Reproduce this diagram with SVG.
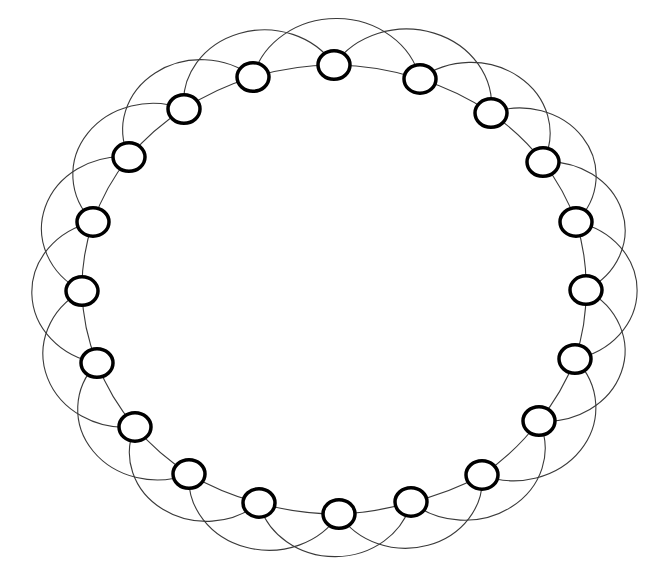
<svg xmlns="http://www.w3.org/2000/svg" width="672" height="576" viewBox="0 0 672 576">
<style>
.e{fill:none;stroke:#3a3a3a;stroke-width:1.1;vector-effect:non-scaling-stroke}
.n{fill:#fff;stroke:#000;stroke-width:3.5;vector-effect:non-scaling-stroke}
</style>
<rect width="672" height="576" fill="#fff"/>
<g transform="translate(334 289.5) scale(1 0.8909)">
<g id="connectors">
<path class="e" d="M0,-252 A252,252 0 0 1 86,-236.3"/>
<path class="e" d="M86,-236.3 A252,252 0 0 1 157,-198.1"/>
<path class="e" d="M157,-198.1 A252,252 0 0 1 209,-143.1"/>
<path class="e" d="M209,-143.1 A252,252 0 0 1 242,-75.8"/>
<path class="e" d="M242,-75.8 A252,252 0 0 1 252,0.6"/>
<path class="e" d="M252,0.6 A252,252 0 0 1 241,78"/>
<path class="e" d="M241,78 A252,252 0 0 1 205,147.6"/>
<path class="e" d="M205,147.6 A252,252 0 0 1 148,208.2"/>
<path class="e" d="M148,208.2 A252,252 0 0 1 77,238.5"/>
<path class="e" d="M77,238.5 A252,252 0 0 1 5,252"/>
<path class="e" d="M5,252 A252,252 0 0 1 -75,239.6"/>
<path class="e" d="M-75,239.6 A252,252 0 0 1 -145,207.1"/>
<path class="e" d="M-145,207.1 A252,252 0 0 1 -199,154.3"/>
<path class="e" d="M-199,154.3 A252,252 0 0 1 -237,82.5"/>
<path class="e" d="M-237,82.5 A252,252 0 0 1 -252,1.7"/>
<path class="e" d="M-252,1.7 A252,252 0 0 1 -241,-75.8"/>
<path class="e" d="M-241,-75.8 A252,252 0 0 1 -205,-148.7"/>
<path class="e" d="M-205,-148.7 A252,252 0 0 1 -150,-202.6"/>
<path class="e" d="M-150,-202.6 A252,252 0 0 1 -81,-238.5"/>
<path class="e" d="M-81,-238.5 A252,252 0 0 1 0,-252"/>
<path class="e" d="M0,-252 A85.1,85.1 0 0 1 157,-198.1"/>
<path class="e" d="M86,-236.3 A79.1,79.1 0 0 1 209,-143.1"/>
<path class="e" d="M157,-198.1 A76.3,76.3 0 0 1 242,-75.8"/>
<path class="e" d="M209,-143.1 A76.9,76.9 0 0 1 252,0.6"/>
<path class="e" d="M242,-75.8 A78.8,78.8 0 0 1 241,78"/>
<path class="e" d="M252,0.6 A79.1,79.1 0 0 1 205,147.6"/>
<path class="e" d="M241,78 A82,82 0 0 1 148,208.2"/>
<path class="e" d="M205,147.6 A80.5,80.5 0 0 1 77,238.5"/>
<path class="e" d="M148,208.2 A76.7,76.7 0 0 1 5,252"/>
<path class="e" d="M77,238.5 A77.9,77.9 0 0 1 -75,239.6"/>
<path class="e" d="M5,252 A80.3,80.3 0 0 1 -145,207.1"/>
<path class="e" d="M-75,239.6 A77.1,77.1 0 0 1 -199,154.3"/>
<path class="e" d="M-145,207.1 A79.4,79.4 0 0 1 -237,82.5"/>
<path class="e" d="M-199,154.3 A82.8,82.8 0 0 1 -252,1.7"/>
<path class="e" d="M-237,82.5 A81.2,81.2 0 0 1 -241,-75.8"/>
<path class="e" d="M-252,1.7 A80.7,80.7 0 0 1 -205,-148.7"/>
<path class="e" d="M-241,-75.8 A80,80 0 0 1 -150,-202.6"/>
<path class="e" d="M-205,-148.7 A78.5,78.5 0 0 1 -81,-238.5"/>
<path class="e" d="M-150,-202.6 A80.9,80.9 0 0 1 0,-252"/>
<path class="e" d="M-81,-238.5 A85.6,85.6 0 0 1 86,-236.3"/>
</g>
<g id="node0"><circle class="n" cx="0" cy="-252" r="16"/></g>
<g id="node1"><circle class="n" cx="86" cy="-236.3" r="16"/></g>
<g id="node2"><circle class="n" cx="157" cy="-198.1" r="16"/></g>
<g id="node3"><circle class="n" cx="209" cy="-143.1" r="16"/></g>
<g id="node4"><circle class="n" cx="242" cy="-75.8" r="16"/></g>
<g id="node5"><circle class="n" cx="252" cy="0.6" r="16"/></g>
<g id="node6"><circle class="n" cx="241" cy="78" r="16"/></g>
<g id="node7"><circle class="n" cx="205" cy="147.6" r="16"/></g>
<g id="node8"><circle class="n" cx="148" cy="208.2" r="16"/></g>
<g id="node9"><circle class="n" cx="77" cy="238.5" r="16"/></g>
<g id="node10"><circle class="n" cx="5" cy="252" r="16"/></g>
<g id="node11"><circle class="n" cx="-75" cy="239.6" r="16"/></g>
<g id="node12"><circle class="n" cx="-145" cy="207.1" r="16"/></g>
<g id="node13"><circle class="n" cx="-199" cy="154.3" r="16"/></g>
<g id="node14"><circle class="n" cx="-237" cy="82.5" r="16"/></g>
<g id="node15"><circle class="n" cx="-252" cy="1.7" r="16"/></g>
<g id="node16"><circle class="n" cx="-241" cy="-75.8" r="16"/></g>
<g id="node17"><circle class="n" cx="-205" cy="-148.7" r="16"/></g>
<g id="node18"><circle class="n" cx="-150" cy="-202.6" r="16"/></g>
<g id="node19"><circle class="n" cx="-81" cy="-238.5" r="16"/></g>
</g>
</svg>
